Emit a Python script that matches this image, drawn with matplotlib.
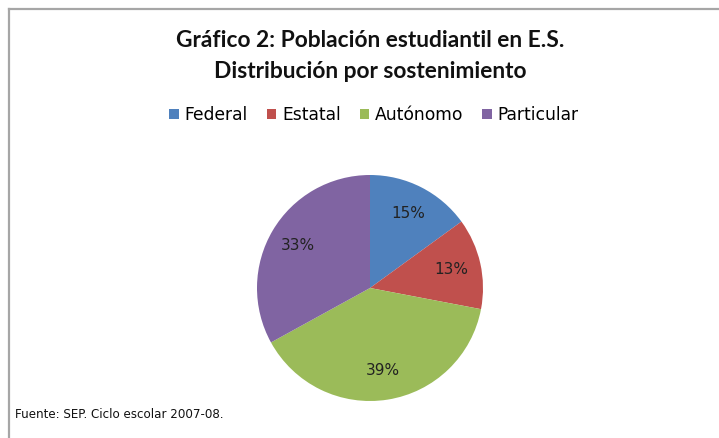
import matplotlib
matplotlib.use('Agg')
import matplotlib.pyplot as plt
from matplotlib.lines import Line2D

# datos
categorias = ['Federal', 'Estatal', 'Autónomo', 'Particular']
porcentajes = [15, 13, 39, 33]
colores = ['#4F81BD', '#C0504D', '#9BBB59', '#8064A2']
titulo = 'Gráfico 2: Población estudiantil en E.S.\nDistribución por sostenimiento'
fuente = 'Fuente: SEP. Ciclo escolar 2007-08.'

W, H = 719, 438
fig = plt.figure(figsize=(W/100, H/100), dpi=100)
fig.patch.set_facecolor('white')

# marco del grafico
fig.add_artist(Line2D([9/W, 1], [1-9/H, 1-9/H], color='#a6a6a6', lw=1.6))
fig.add_artist(Line2D([9/W, 9/W], [0, 1-9/H], color='#a6a6a6', lw=1.6))

# pastel
cx, cy, r = 370, 288, 113
ax = fig.add_axes([(cx-r)/W, (H-cy-r)/H, 2*r/W, 2*r/H])
wedges, textos, autotextos = ax.pie(porcentajes, colors=colores, startangle=90,
                                    counterclock=False, radius=1,
                                    autopct='%d%%', pctdistance=0.74,
                                    wedgeprops=dict(linewidth=0),
                                    textprops=dict(fontsize=11, color='#222222',
                                                   family='DejaVu Sans'))
ax.set_xlim(-1, 1)
ax.set_ylim(-1, 1)
ax.axis('off')

# titulo
fig.text(370/W, 1-56/H, titulo, ha='center', va='center', fontsize=16.4,
         fontweight='bold', family='Lato', linespacing=1.55, color='#111111')

# leyenda
fig.legend(wedges, categorias, loc='center', bbox_to_anchor=(374/W, 1-115/H),
           ncol=4, frameon=False, handlelength=0.55, handleheight=0.55,
           handletextpad=0.35, columnspacing=1.1,
           prop=dict(family='DejaVu Sans', size=12.3))

# fuente
fig.text(15/W, 1-415/H, fuente, ha='left', va='center', fontsize=8.6,
         family='DejaVu Sans', color='#111111')

fig.savefig('out.png', dpi=100)
